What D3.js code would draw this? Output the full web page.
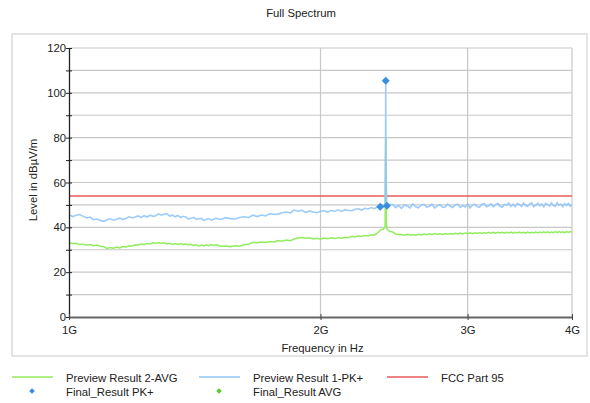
<!DOCTYPE html>
<html>
<head>
<meta charset="utf-8">
<script src="https://cdnjs.cloudflare.com/ajax/libs/d3/7.8.5/d3.min.js"></script>
<style>
  body { margin: 0; background: #fff; }
  text { font-family: "Liberation Sans", Arial, sans-serif; fill: #222; }
</style>
</head>
<body>
<div id="chart"></div>
<script>
// Sweep frequencies in MHz (10 MHz steps up to 1.5 GHz, 20 MHz after, finer around the 2.4 GHz carrier)
var freqMHz = [
  1000,1010,1020,1030,1040,1050,1060,1070,1080,1090,
  1100,1110,1120,1130,1140,1150,1160,1170,1180,1190,
  1200,1210,1220,1230,1240,1250,1260,1270,1280,1290,
  1300,1310,1320,1330,1340,1350,1360,1370,1380,1390,
  1400,1410,1420,1430,1440,1450,1460,1470,1480,1490,
  1500,
  1520,1540,1560,1580,1600,1620,1640,1660,1680,1700,
  1720,1740,1760,1780,1800,1820,1840,1860,1880,1900,
  1920,1940,1960,1980,2000,2020,2040,2060,2080,2100,
  2120,2140,2160,2180,2200,2220,2240,2260,2280,2300,
  2320,2340,2360,
  2380,2390,2393,2394,2395,2397,2400,2410,2420,
  2440,2460,2480,2500,2520,2540,2560,2580,2600,2620,
  2640,2660,2680,2700,2720,2740,2760,2780,2800,2820,
  2840,2860,2880,2900,2920,2940,2960,2980,3000,3020,
  3040,3060,3080,3100,3120,3140,3160,3180,3200,3220,
  3240,3260,3280,3300,3320,3340,3360,3380,3400,3420,
  3440,3460,3480,3500,3520,3540,3560,3580,3600,3620,
  3640,3660,3680,3700,3720,3740,3760,3780,3800,3820,
  3840,3860,3880,3900,3920,3940,3960,3980,4000
];

// Preview Result 1-PK+ (dBµV/m)
var pkValues = [
  45.6,44.8,45.4,45.7,44.9,44.2,44.6,43.4,43.7,43.1,
  42.7,43.4,43.8,43.2,43.6,44.1,43.5,43.9,44.8,44.2,
  44.6,45.1,44.4,45.2,44.6,45.4,44.9,45.2,46.0,45.4,
  45.8,46.1,45.0,45.4,44.7,45.3,44.4,44.9,44.6,43.7,
  44.1,44.4,43.5,43.8,44.0,43.1,43.5,43.9,43.2,43.6,
  44.0,
  43.5,44.3,43.9,43.7,44.4,44.7,44.4,45.4,44.8,45.5,
  45.1,46.1,45.7,45.9,46.5,46.8,46.4,47.7,47.2,47.6,
  46.6,47.3,46.8,46.5,47.2,47.4,46.8,47.6,47.1,47.8,
  47.1,47.9,47.5,47.4,48.1,48.3,47.7,48.5,48.2,48.8,
  48.3,49.1,48.7,
  49.2,49.5,79.0,105.4,80.0,62.0,49.9,49.0,50.2,
  50.2,48.8,49.7,48.5,50.0,49.5,48.7,50.4,49.2,48.7,
  50.0,50.2,49.0,49.4,50.3,48.6,49.7,50.1,48.9,49.1,
  50.4,49.4,48.8,50.0,50.3,48.9,49.7,49.1,50.4,48.7,
  49.9,50.3,49.3,48.9,50.2,50.6,49.2,49.6,50.5,49.1,
  50.0,50.7,49.4,49.0,50.3,49.8,50.8,49.3,50.3,49.2,
  50.6,50.2,49.3,50.8,49.7,49.4,50.5,50.9,49.2,49.9,
  50.8,49.6,50.4,49.2,50.7,50.2,49.5,50.9,49.7,49.4,
  51.0,49.9,50.4,49.2,50.6,49.7,50.7,49.4,50.2
];

// Preview Result 2-AVG (dBµV/m)
var avgValues = [
  33.2,32.7,32.9,32.3,32.5,32.0,32.3,31.8,32.1,31.5,
  31.4,30.6,31.0,30.7,31.2,30.8,31.4,31.2,31.8,31.6,
  32.2,32.0,32.6,32.3,32.8,32.6,33.1,32.8,33.2,32.8,
  33.1,32.6,32.9,32.4,32.8,32.4,32.8,32.3,32.6,32.1,
  32.4,31.9,32.2,31.7,32.1,31.7,32.2,31.8,32.3,31.9,
  32.2,
  31.6,31.7,31.3,31.8,31.6,32.2,32.4,33.3,33.1,33.5,
  33.2,33.7,33.5,34.1,33.8,34.3,34.0,34.8,35.2,35.5,
  35.1,35.3,34.8,35.1,34.7,35.2,34.9,35.3,35.0,35.4,
  35.1,35.6,35.4,36.0,35.7,36.2,35.9,36.4,36.1,36.7,
  36.5,37.5,38.8,
  39.3,40.5,78.0,80.0,78.0,44.0,39.5,38.6,38.2,
  37.9,37.0,36.9,36.8,36.5,36.9,36.6,36.8,36.5,36.9,
  36.6,37.0,36.7,37.1,36.7,37.2,36.8,37.1,36.8,37.2,
  36.9,37.2,36.9,37.3,37.0,37.4,37.0,37.5,37.2,37.6,
  37.2,37.6,37.3,37.7,37.3,37.7,37.4,37.8,37.4,37.8,
  37.4,37.8,37.5,37.8,37.4,37.8,37.5,37.9,37.4,37.8,
  37.5,37.9,37.5,37.8,37.4,37.9,37.5,37.8,37.5,37.9,
  37.5,37.9,37.6,38.0,37.6,38.0,37.6,37.9,37.6,38.1,
  37.6,38.1,37.7,38.0,37.6,38.1,37.7,38.1,37.8
];

// FCC Part 95 limit
var limitFreqMHz = [1000, 4000];
var limitValues = [54, 54];

// Final results
var finalPkFreqMHz = [2358, 2394, 2402];
var finalPkValues = [49.2, 105.4, 49.6];
var finalAvgFreqMHz = [];
var finalAvgValues = [];

var yTicks = [0,10,20,30,40,50,60,70,80,90,100,110,120];
var xTicks = [1000, 2000, 3000, 4000];
var xTickLabels = ["1G", "2G", "3G", "4G"];

var svgWidth = 590, svgHeight = 403;
var plotLeft = 69, plotRight = 572, plotTop = 48, plotBottom = 317;

var svg = d3.select("#chart").append("svg")
  .attr("width", svgWidth)
  .attr("height", svgHeight);

var fontSize = "11.3px";

// Outer frame
svg.append("rect")
  .attr("x", 12).attr("y", 34)
  .attr("width", 575).attr("height", 322)
  .attr("fill", "none")
  .attr("stroke", "#dcdcdc")
  .attr("stroke-width", 1.5);

// Title
svg.append("text")
  .attr("x", 301).attr("y", 17)
  .attr("text-anchor", "middle")
  .style("font-size", fontSize)
  .text("Full Spectrum");

var x = d3.scaleLog().domain([1000, 4000]).range([plotLeft, plotRight]);
var y = d3.scaleLinear().domain([0, 120]).range([plotBottom, plotTop]);

// Grid
var grid = svg.append("g").attr("class", "grid");
grid.selectAll(".hgrid")
  .data(yTicks.filter(function(d) { return d > 0; }))
  .enter().append("line")
  .attr("x1", plotLeft).attr("x2", plotRight)
  .attr("y1", function(d) { return y(d); })
  .attr("y2", function(d) { return y(d); })
  .attr("stroke", "#c8c8c8").attr("stroke-width", 1.2);
grid.selectAll(".vgrid")
  .data(xTicks.slice(1))
  .enter().append("line")
  .attr("y1", plotTop).attr("y2", plotBottom)
  .attr("x1", function(d) { return x(d); })
  .attr("x2", function(d) { return x(d); })
  .attr("stroke", "#c8c8c8").attr("stroke-width", 1.2);

// Limit line
var limitData = limitFreqMHz.map(function(f, i) { return [f, limitValues[i]]; });
var line = d3.line()
  .x(function(d) { return x(d[0]); })
  .y(function(d) { return y(d[1]); });

svg.append("path")
  .datum(limitData)
  .attr("d", line)
  .attr("fill", "none")
  .attr("stroke", "#e85a5a")
  .attr("stroke-width", 1.5);

// Traces
var avgData = freqMHz.map(function(f, i) { return [f, avgValues[i]]; });
var pkData = freqMHz.map(function(f, i) { return [f, pkValues[i]]; });

svg.append("path")
  .datum(avgData)
  .attr("d", line)
  .attr("fill", "none")
  .attr("stroke", "#92ec5e")
  .attr("stroke-width", 1.5);

svg.append("path")
  .datum(pkData)
  .attr("d", line)
  .attr("fill", "none")
  .attr("stroke", "#92c6fa")
  .attr("stroke-opacity", 0.9)
  .attr("stroke-width", 1.6);

// Axes
var yAxis = d3.axisLeft(y)
  .tickValues(yTicks)
  .tickSize(3)
  .tickSizeOuter(0)
  .tickFormat(function(d) { return d % 20 === 0 ? d : ""; });

var gy = svg.append("g")
  .attr("transform", "translate(" + plotLeft + ",0)")
  .call(yAxis);
gy.select(".domain").attr("stroke", "#222").attr("stroke-width", 1.3);
gy.selectAll(".tick line").attr("x1", -3).attr("x2", 3).attr("stroke", "#222");
gy.selectAll(".tick text")
  .attr("x", -3)
  .style("font-size", fontSize)
  .style("font-family", "Liberation Sans, Arial, sans-serif")
  .attr("fill", "#222");

var xAxis = d3.axisBottom(x)
  .tickValues(xTicks)
  .tickSize(3)
  .tickSizeOuter(0)
  .tickFormat(function(d, i) { return xTickLabels[i]; });

var gx = svg.append("g")
  .attr("transform", "translate(0," + plotBottom + ")")
  .call(xAxis);
gx.select(".domain").attr("stroke", "#666").attr("stroke-width", 2);
gx.selectAll(".tick line").attr("y1", -3).attr("y2", 3).attr("stroke", "#444");
gx.selectAll(".tick text")
  .attr("y", 9)
  .style("font-size", fontSize)
  .style("font-family", "Liberation Sans, Arial, sans-serif")
  .attr("fill", "#222");

// Final result markers (square turned 45 degrees)
var diamond = d3.symbol().type(d3.symbolSquare).size(32);
svg.selectAll(".finPk")
  .data(finalPkFreqMHz.map(function(f, i) { return [f, finalPkValues[i]]; }))
  .enter().append("path")
  .attr("d", diamond)
  .attr("transform", function(d) { return "translate(" + x(d[0]) + "," + y(d[1]) + ")rotate(45)"; })
  .attr("fill", "#3a8ede");
svg.selectAll(".finAvg")
  .data(finalAvgFreqMHz.map(function(f, i) { return [f, finalAvgValues[i]]; }))
  .enter().append("path")
  .attr("d", diamond)
  .attr("transform", function(d) { return "translate(" + x(d[0]) + "," + y(d[1]) + ")rotate(45)"; })
  .attr("fill", "#5cc83c");

// Axis titles
svg.append("text")
  .attr("transform", "translate(37,180)rotate(-90)")
  .attr("text-anchor", "middle")
  .style("font-size", fontSize)
  .text("Level in dBµV/m");

svg.append("text")
  .attr("x", (plotLeft + plotRight) / 2 + 2)
  .attr("y", 352)
  .attr("text-anchor", "middle")
  .style("font-size", fontSize)
  .text("Frequency in Hz");

// Legend
var legendItems = [
  { label: "Preview Result 2-AVG", type: "line", color: "#92ec5e", x: 12, y: 377 },
  { label: "Preview Result 1-PK+", type: "line", color: "#92c6fa", x: 199, y: 377 },
  { label: "FCC Part 95", type: "line", color: "#e85a5a", x: 387, y: 377 },
  { label: "Final_Result PK+", type: "marker", color: "#3a8ede", x: 12, y: 391 },
  { label: "Final_Result AVG", type: "marker", color: "#5cc83c", x: 199, y: 391 }
];

var legend = svg.append("g").attr("class", "legend");
legendItems.forEach(function(item) {
  if (item.type === "line") {
    legend.append("line")
      .attr("x1", item.x).attr("x2", item.x + 41)
      .attr("y1", item.y).attr("y2", item.y)
      .attr("stroke", item.color)
      .attr("stroke-width", 1.3);
  } else {
    legend.append("path")
      .attr("d", d3.symbol().type(d3.symbolSquare).size(16))
      .attr("transform", "translate(" + (item.x + 20) + "," + item.y + ")rotate(45)")
      .attr("fill", item.color);
  }
  legend.append("text")
    .attr("x", item.x + 54)
    .attr("y", item.y + 5)
    .style("font-size", fontSize)
    .text(item.label);
});
</script>
</body>
</html>
